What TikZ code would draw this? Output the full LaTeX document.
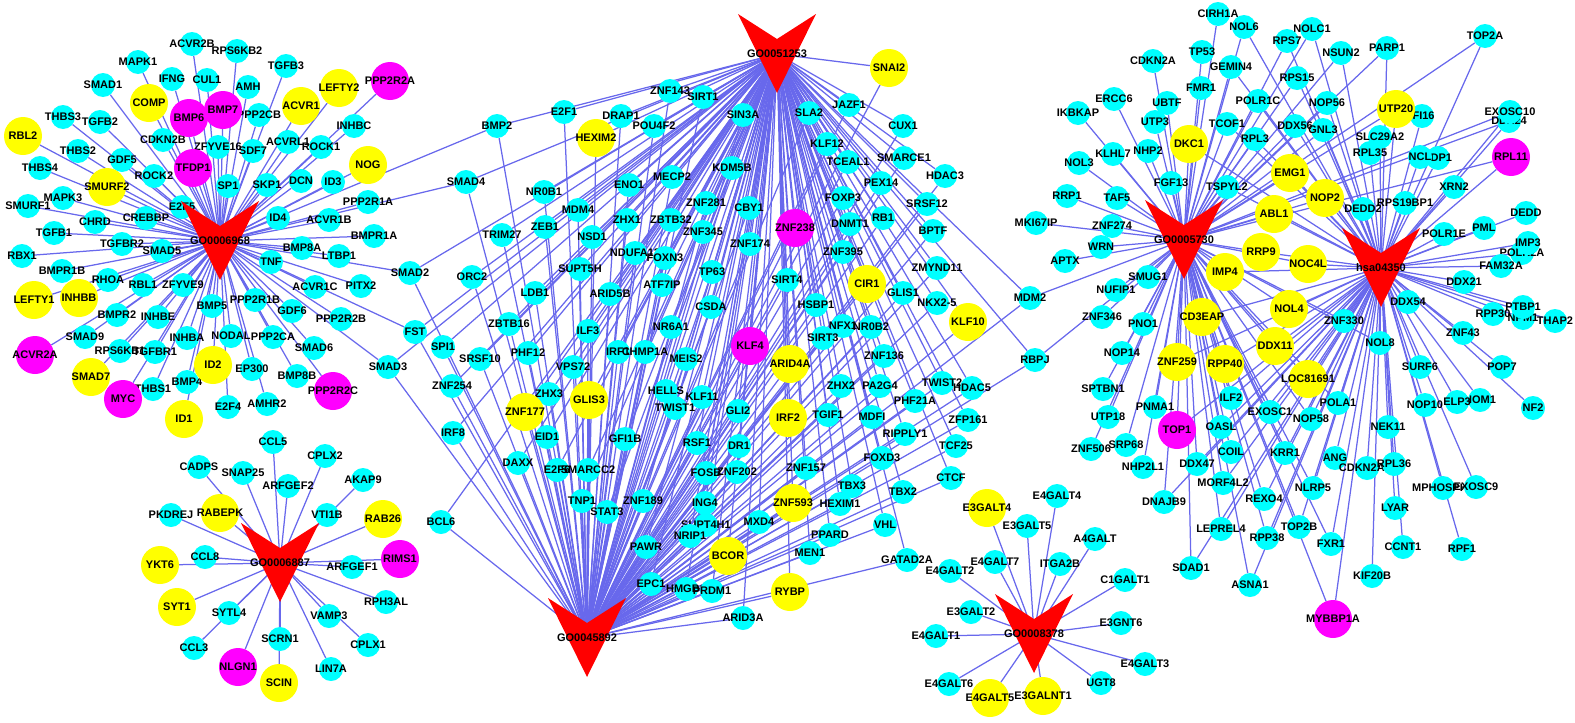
\documentclass[tikz,border=0pt]{standalone}
\usepackage{fontspec}
\setmainfont{Liberation Sans}
\usetikzlibrary{backgrounds}
\definecolor{genecyan}{RGB}{0,255,255}
\definecolor{geneyellow}{RGB}{255,255,0}
\definecolor{genepink}{RGB}{255,0,255}
\definecolor{hubred}{RGB}{255,0,0}
\definecolor{edgeblue}{RGB}{104,104,236}
\newcommand{\genetext}[1]{\makebox[0pt]{\fontsize{11}{11}\selectfont\bfseries #1}}
\tikzstyle{gene}=[circle, fill=genecyan, inner sep=0pt, minimum size=24pt]
\tikzstyle{bigyellow}=[circle, fill=geneyellow, inner sep=0pt, minimum size=38pt]
\tikzstyle{bigpink}=[circle, fill=genepink, inner sep=0pt, minimum size=38pt]
\tikzstyle{hubtext}=[inner sep=0pt]
\tikzstyle{edgeline}=[draw=edgeblue, line width=1.25pt]
\newcommand{\hubnode}[3]{%
  \fill[hubred] (#2-39,#3-40) -- (#2,#3-15) -- (#2+39,#3-40) -- (#2,#3+39) -- cycle;
  \node[hubtext] (#1) at (#2,#3) {\genetext{#1}};}
\begin{document}
\begin{tikzpicture}[x=1pt,y=-1pt]
\useasboundingbox (0,0) rectangle (1575,723);
% left cluster
\foreach \nm/\x/\y in {ACVR2B/192/44,RPS6KB2/237/51,MAPK1/138/62,TGFB3/286/66,IFNG/172/79,CUL1/207/80,AMH/248/87,SMAD1/103/85,
  PPP2CB/259/115,INHBC/354/126,THBS3/63/117,TGFB2/100/122,CDKN2B/163/140,ZFYVE16/218/147,SDF7/253/151,ACVRL1/288/142,ROCK1/321/147,
  THBS2/78/151,GDF5/122/160,THBS4/40/168,ROCK2/154/176,SP1/228/186,SKP1/267/185,DCN/301/181,ID3/333/182,MAPK3/63/198,SMURF1/28/206,
  E2F5/182/207,PPP2R1A/368/202,ID4/278/218,ACVR1B/329/220,CHRD/95/222,CREBBP/146/218,TGFB1/54/233,BMPR1A/374/236,TGFBR2/122/244,
  SMAD5/162/251,RBX1/22/256,BMP8A/302/248,LTBP1/339/256,TNF/271/262,BMPR1B/62/271,RHOA/108/280,RBL1/143/285,ZFYVE9/183/285,
  ACVR1C/315/287,PITX2/361/286,BMP5/212/306,PPP2R1B/255/300,GDF6/292/311,PPP2R2B/341/319,BMPR2/117/315,INHBE/158/317,SMAD9/85/337,
  INHBA/187/338,NODAL/231/336,PPP2CA/273/337,SMAD6/314/348,RPS6KB1/120/351,TGFBR1/155/352,EP300/252/369,BMP8B/297/376,THBS1/153/389,
  BMP4/187/382,E2F4/228/407,AMHR2/267/404,SMAD2/410/273,FST/415/332,SMAD3/388/367,BMP2/497/126,SMAD4/466/182}
  \node[gene] (\nm) at (\x,\y) {\genetext{\nm}};
\foreach \nm/\x/\y in {COMP/149/103,ACVR1/301/106,LEFTY2/339/88,RBL2/23/136,NOG/368/165,SMURF2/107/187,LEFTY1/34/300,INHBB/79/298,ID2/213/365,SMAD7/91/377,ID1/184/419}
  \node[bigyellow] (\nm) at (\x,\y) {\genetext{\nm}};
\foreach \nm/\x/\y in {BMP6/189/118,BMP7/223/110,PPP2R2A/390/81,TFDP1/193/168,ACVR2A/35/355,MYC/123/399,PPP2R2C/333/391}
  \node[bigpink] (\nm) at (\x,\y) {\genetext{\nm}};
% lower left cluster
\foreach \nm/\x/\y in {CCL5/273/442,CPLX2/325/456,CADPS/199/467,SNAP25/243/473,ARFGEF2/288/486,AKAP9/363/480,PKDREJ/171/515,VTI1B/327/515,
  CCL8/205/557,ARFGEF1/352/567,RPH3AL/386/602,SYTL4/229/613,VAMP3/329/616,SCRN1/280/639,CPLX1/368/645,CCL3/194/648,LIN7A/331/669}
  \node[gene] (\nm) at (\x,\y) {\genetext{\nm}};
\foreach \nm/\x/\y in {RABEPK/220/513,RAB26/383/519,YKT6/160/565,SYT1/177/607,SCIN/279/683}
  \node[bigyellow] (\nm) at (\x,\y) {\genetext{\nm}};
\foreach \nm/\x/\y in {RIMS1/400/559,NLGN1/238/667}
  \node[bigpink] (\nm) at (\x,\y) {\genetext{\nm}};
% centre cluster
\foreach \nm/\x/\y in {ZNF143/670/91,SIRT1/703/97,E2F1/564/112,DRAP1/621/116,POU4F2/654/126,MECP2/672/177,ENO1/629/185,NR0B1/544/192,MDM4/578/210,
  ZHX1/627/220,ZBTB32/671/220,ZNF281/706/203,ZNF345/703/232,ZEB1/545/227,TRIM27/502/235,NSD1/592/237,SIN3A/743/115,SLA2/809/113,JAZF1/849/105,
  CUX1/903/126,KLF12/827/144,TCEAL1/848/162,SMARCE1/904/158,KDM5B/732/168,PEX14/881/183,HDAC3/945/176,FOXP3/843/198,SRSF12/927/204,CBY1/749/208,
  RB1/883/218,DNMT1/850/224,BPTF/933/231,ZNF174/750/244,ZNF395/843/252,ZMYND11/937/268,TP63/712/272,NDUFA13/635/253,FOXN3/665/258,ORC2/472/277,
  SUPT5H/580/269,ATF7IP/662/285,LDB1/535/293,ARID5B/610/294,CSDA/711/307,ZBTB16/509/324,ILF3/588/331,NR6A1/671/327,SPI1/443/347,SRSF10/480/359,
  PHF12/528/353,IRF1/618/352,CHMP1A/645/352,MEIS2/686/359,VPS72/573/367,ZNF254/452/386,ZHX3/549/394,HELLS/666/391,KLF11/702/397,TWIST1/675/408,
  IRF8/453/433,EID1/547/437,GFI1B/625/439,RSF1/697/443,DAXX/518/463,E2F6/557/470,SMARCC2/588/470,SIRT4/787/280,HSBP1/816/305,GLIS1/903/293,
  NKX2-5/937/303,MDM2/1030/298,RBPJ/1035/360,NFX1/843/326,NR0B2/871/327,SIRT3/823/338,ZNF136/884/356,ZHX2/841/386,PA2G4/880/386,TWIST2/942/383,
  HDAC5/972/388,PHF21A/915/401,GLI2/738/411,TGIF1/828/415,MDFI/872/417,ZFP161/968/420,RIPPLY1/905/434,TCF25/956/446,DR1/739/446,FOXD3/882/458,
  FOSB/706/473,ZNF202/737/472,CTCF/951/478,ZNF157/806/468,TBX3/852/486,TBX2/903/492,ING4/705/503,HEXIM1/840/504,TNP1/582/501,STAT3/607/512,
  ZNF189/643/501,MXD4/759/522,SUPT4H1/706/525,NRIP1/690/536,PAWR/646/547,PPARD/830/535,VHL/885/525,MEN1/810/553,GATAD2A/907/560,EPC1/651/584,
  HMGB1/686/589,PRDM1/712/591,ARID3A/743/618,BCL6/441/522}
  \node[gene] (\nm) at (\x,\y) {\genetext{\nm}};
\foreach \nm/\x/\y in {HEXIM2/596/138,SNAI2/889/68,CIR1/867/284,KLF10/968/322,ARID4A/790/364,IRF2/788/418,GLIS3/589/400,ZNF177/525/412,ZNF593/793/503,BCOR/728/556,RYBP/790/592}
  \node[bigyellow] (\nm) at (\x,\y) {\genetext{\nm}};
\foreach \nm/\x/\y in {ZNF238/795/228,KLF4/750/346}
  \node[bigpink] (\nm) at (\x,\y) {\genetext{\nm}};
% lower middle cluster
\foreach \nm/\x/\y in {E4GALT4/1057/496,E3GALT5/1027/526,A4GALT/1095/539,E4GALT7/995/562,ITGA2B/1060/564,E4GALT2/950/571,C1GALT1/1125/580,E3GALT2/971/612,
  E3GNT6/1121/623,E4GALT1/936/636,E4GALT3/1145/664,UGT8/1101/683,E4GALT6/949/684}
  \node[gene] (\nm) at (\x,\y) {\genetext{\nm}};
\foreach \nm/\x/\y in {E3GALT4/987/508,E4GALT5/990/698,E3GALNT1/1043/696}
  \node[bigyellow] (\nm) at (\x,\y) {\genetext{\nm}};
% right cluster
\foreach \nm/\x/\y in {CIRH1A/1218/14,NOL6/1244/27,NOLC1/1312/29,RPS7/1287/41,TP53/1202/52,CDKN2A/1153/61,GEMIN4/1231/67,RPS15/1297/78,FMR1/1201/88,ERCC6/1114/99,
  POLR1C/1258/101,UBTF/1167/103,IKBKAP/1078/113,UTP3/1155/122,TCOF1/1227/124,DDX56/1295/126,RPL3/1255/139,NHP2/1148/151,KLHL7/1113/154,NOL3/1079/163,
  FGF13/1171/183,TSPYL2/1227/187,RRP1/1067/196,TAF5/1117/198,ZNF274/1112/226,MKI67IP/1036/223,TOP2A/1485/36,PARP1/1387/48,NSUN2/1341/53,NOP56/1327/103,
  IFI16/1422/116,GNL3/1323/130,DDX24/1509/121,EXOSC10/1510/112,SLC29A2/1380/137,RPL35/1370/153,TDP1/1438/158,NCL/1420/157,XRN2/1454/187,DEDD2/1363/209,
  RPS19BP1/1405/203,DEDD/1526/213,PML/1484/228,POLR1E/1444/234,POLR2A/1522/253,IMP3/1528/243,FAM32A/1501/266,DDX21/1464/282,DDX54/1408/302,RPP30/1493/314,
  NPM1/1523/318,PTBP1/1523/307,THAP2/1555/321,ZNF330/1344/321,ZNF43/1463/333,NOL8/1380/343,POP7/1502/367,SURF6/1420/367,NOP10/1425/405,NOM1/1480/400,
  ELP3/1457/402,NF2/1533/408,POLA1/1338/403,NEK11/1388/427,WRN/1101/247,APTX/1065/261,SMUG1/1148/277,NUFIP1/1116/290,ZNF346/1102/317,PNO1/1143/324,
  NOP14/1122/353,SPTBN1/1103/389,ILF2/1231/398,PNMA1/1155/407,EXOSC1/1270/412,NOP58/1311/419,UTP18/1108/417,OASL/1221/427,SRP68/1126/445,ZNF506/1091/449,
  COIL/1231/452,KRR1/1285/453,NHP2L1/1143/467,DDX47/1197/464,MORF4L2/1223/483,ANG/1335/458,CDKN2AIP/1367/468,RPL36/1394/464,NLRP5/1313/488,MPHOSPH6/1443/488,
  EXOSC9/1476/487,DNAJB9/1164/502,REXO4/1264/499,LYAR/1395/508,LEPREL4/1221/529,TOP2B/1299/527,RPP38/1267/538,FXR1/1331/544,CCNT1/1403/547,RPF1/1462/549,
  SDAD1/1191/568,KIF20B/1372/576,ASNA1/1250/585}
  \node[gene] (\nm) at (\x,\y) {\genetext{\nm}};
\foreach \nm/\x/\y in {DKC1/1189/144,UTP20/1396/109,EMG1/1290/173,NOP2/1325/198,ABL1/1274/214,RRP9/1261/252,IMP4/1225/272,NOC4L/1308/264,NOL4/1289/309,CD3EAP/1202/317,
  DDX11/1275/346,ZNF259/1177/362,RPP40/1225/364,LOC81691/1308/379}
  \node[bigyellow] (\nm) at (\x,\y) {\genetext{\nm}};
\foreach \nm/\x/\y in {RPL11/1511/157,TOP1/1177/430,MYBBP1A/1333/619}
  \node[bigpink] (\nm) at (\x,\y) {\genetext{\nm}};
% hubs
\hubnode{GO0006968}{220}{241}
\hubnode{GO0006887}{280}{563}
\hubnode{GO0051253}{777}{54}
\hubnode{GO0045892}{587}{638}
\hubnode{GO0008378}{1034}{634}
\hubnode{GO0005730}{1184}{240}
\hubnode{hsa04350}{1381}{268}
% edges
\begin{scope}[on background layer]
\foreach \n in {ACVR2B,RPS6KB2,MAPK1,TGFB3,IFNG,CUL1,AMH,SMAD1,PPP2CB,INHBC,THBS3,TGFB2,CDKN2B,ZFYVE16,SDF7,ACVRL1,ROCK1,THBS2,GDF5,THBS4,ROCK2,SP1,SKP1,DCN,ID3,MAPK3,SMURF1,
  E2F5,PPP2R1A,ID4,ACVR1B,CHRD,CREBBP,TGFB1,BMPR1A,TGFBR2,SMAD5,RBX1,BMP8A,LTBP1,TNF,BMPR1B,RHOA,RBL1,ZFYVE9,ACVR1C,PITX2,BMP5,PPP2R1B,GDF6,PPP2R2B,BMPR2,INHBE,SMAD9,INHBA,NODAL,
  PPP2CA,SMAD6,RPS6KB1,TGFBR1,EP300,BMP8B,THBS1,BMP4,E2F4,AMHR2,SMAD2,FST,SMAD3,BMP2,SMAD4,COMP,ACVR1,LEFTY2,RBL2,NOG,SMURF2,LEFTY1,INHBB,ID2,SMAD7,ID1,BMP6,BMP7,PPP2R2A,TFDP1,ACVR2A,MYC,PPP2R2C}
  \draw[edgeline] (GO0006968) -- (\n);
\foreach \n in {CCL5,CPLX2,CADPS,SNAP25,ARFGEF2,AKAP9,PKDREJ,VTI1B,CCL8,ARFGEF1,RPH3AL,SYTL4,VAMP3,SCRN1,CPLX1,CCL3,LIN7A,RABEPK,RAB26,YKT6,SYT1,SCIN,RIMS1,NLGN1}
  \draw[edgeline] (GO0006887) -- (\n);
\foreach \n in {ZNF143,SIRT1,E2F1,DRAP1,POU4F2,MECP2,ENO1,NR0B1,MDM4,ZHX1,ZBTB32,ZNF281,ZNF345,ZEB1,TRIM27,NSD1,SIN3A,SLA2,JAZF1,CUX1,KLF12,TCEAL1,SMARCE1,KDM5B,PEX14,HDAC3,FOXP3,
  SRSF12,CBY1,RB1,DNMT1,BPTF,ZNF174,ZNF395,ZMYND11,TP63,NDUFA13,FOXN3,ORC2,SUPT5H,ATF7IP,LDB1,ARID5B,CSDA,ZBTB16,ILF3,NR6A1,SPI1,SRSF10,PHF12,IRF1,CHMP1A,MEIS2,VPS72,ZNF254,ZHX3,
  HELLS,KLF11,TWIST1,IRF8,EID1,GFI1B,RSF1,DAXX,E2F6,SMARCC2,SIRT4,HSBP1,GLIS1,NKX2-5,MDM2,RBPJ,NFX1,NR0B2,SIRT3,ZNF136,ZHX2,PA2G4,TWIST2,HDAC5,PHF21A,GLI2,TGIF1,MDFI,ZFP161,RIPPLY1,
  TCF25,DR1,FOXD3,FOSB,ZNF202,CTCF,ZNF157,TBX3,TBX2,ING4,HEXIM1,TNP1,STAT3,ZNF189,MXD4,SUPT4H1,NRIP1,PAWR,PPARD,VHL,MEN1,GATAD2A,EPC1,HMGB1,PRDM1,ARID3A,BCL6,HEXIM2,SNAI2,CIR1,KLF10,
  ARID4A,IRF2,GLIS3,ZNF177,ZNF593,BCOR,RYBP,ZNF238,KLF4,SMAD2,FST,SMAD3,BMP2,SMAD4}
  {\draw[edgeline] (GO0051253) -- (\n); \draw[edgeline] (GO0045892) -- (\n);}
\foreach \n in {E4GALT4,E3GALT5,A4GALT,E4GALT7,ITGA2B,E4GALT2,C1GALT1,E3GALT2,E3GNT6,E4GALT1,E4GALT3,UGT8,E4GALT6,E3GALT4,E4GALT5,E3GALNT1}
  \draw[edgeline] (GO0008378) -- (\n);
\foreach \n in {CDKN2A,ERCC6,IKBKAP,UBTF,UTP3,KLHL7,NHP2,NOL3,RRP1,TAF5,ZNF274,MKI67IP,WRN,APTX,SMUG1,NUFIP1,ZNF346,PNO1,NOP14,SPTBN1,UTP18,ZNF506,SRP68,PNMA1,NHP2L1,FGF13,TP53,FMR1,CIRH1A,MDM2,RBPJ}
  \draw[edgeline] (GO0005730) -- (\n);
\foreach \n in {NOL6,RPS7,NOLC1,GEMIN4,RPS15,POLR1C,TCOF1,DDX56,RPL3,DKC1,EMG1,ABL1,NOP2,RRP9,IMP4,NOC4L,NOL4,CD3EAP,DDX11,ZNF259,RPP40,LOC81691,ILF2,EXOSC1,NOP58,OASL,TOP1,COIL,KRR1,DDX47,
  MORF4L2,REXO4,NLRP5,LEPREL4,RPP38,TOP2B,FXR1,SDAD1,ASNA1,MYBBP1A,DNAJB9,TOP2A,PARP1,UTP20,NSUN2,NOP56,GNL3,TSPYL2,ZNF330,NOL8,POLA1,EXOSC10,DDX24,RPL11}
  {\draw[edgeline] (GO0005730) -- (\n); \draw[edgeline] (hsa04350) -- (\n);}
\foreach \n in {IFI16,SLC29A2,RPL35,NCL,TDP1,XRN2,DEDD2,RPS19BP1,DEDD,PML,POLR1E,IMP3,POLR2A,FAM32A,DDX21,DDX54,RPP30,PTBP1,NPM1,THAP2,ZNF43,POP7,SURF6,NOM1,NF2,NOP10,ELP3,NEK11,ANG,CDKN2AIP,RPL36,
  MPHOSPH6,EXOSC9,LYAR,CCNT1,RPF1,KIF20B}
  \draw[edgeline] (hsa04350) -- (\n);
\end{scope}
\end{tikzpicture}
\end{document}
